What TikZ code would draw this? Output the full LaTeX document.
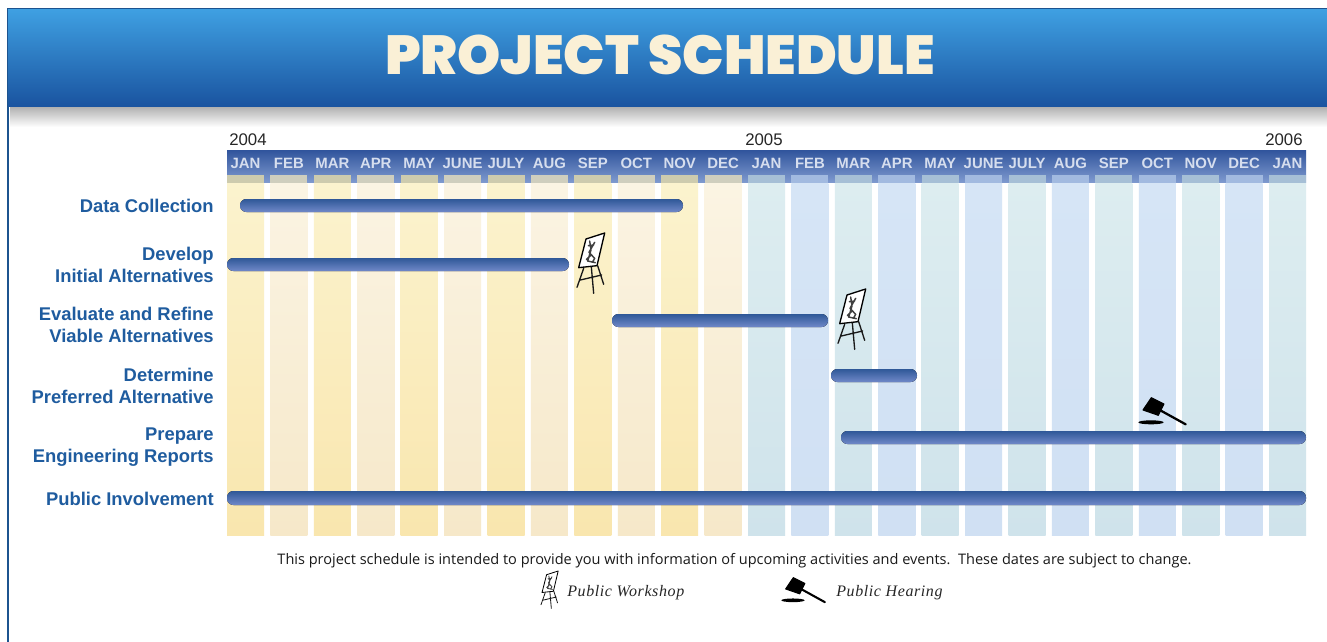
\documentclass[tikz,border=0pt]{standalone}
\usepackage{fontspec}
\setmainfont{Liberation Sans}
\newfontfamily\titlef{Poppins Black}
\newfontfamily\notef{Open Sans}
\newfontfamily\legf[LetterSpace=3.75]{Liberation Serif}
\usetikzlibrary{calc}
\definecolor{yelA}{HTML}{FBF3CE}
\definecolor{yelAb}{HTML}{F9E6AE}
\definecolor{yelB}{HTML}{FBF4E3}
\definecolor{yelBb}{HTML}{F6E8C9}
\definecolor{bluA}{HTML}{DDEDF0}
\definecolor{bluAb}{HTML}{CFE3EB}
\definecolor{bluB}{HTML}{D6E5F6}
\definecolor{bluBb}{HTML}{D0E0F3}
\definecolor{capA}{HTML}{CDCBAE}
\definecolor{capB}{HTML}{CFCEBE}
\definecolor{capC}{HTML}{A6BFD6}
\definecolor{capD}{HTML}{A2BAE0}
\definecolor{labelblue}{HTML}{1F5C9F}
\definecolor{barT}{HTML}{2F5898}
\definecolor{barM}{HTML}{3F5FA3}
\definecolor{barB}{HTML}{7088C8}
\definecolor{monthc}{HTML}{D6DEEE}
\tikzset{
  barbox/.style={rounded corners=4.8pt,shading=axis,top color=barT,middle color=barM,bottom color=barB,draw=none},
  rowlabel/.style={font=\fontsize{13.8}{16.5}\selectfont\bfseries,text=labelblue,anchor=east,align=right,inner sep=0pt},
  monthlabel/.style={font=\fontsize{11.2}{12}\selectfont\bfseries,text=monthc,inner sep=0pt},
  yearlabel/.style={font=\fontsize{12.6}{14}\selectfont,text=black!85,inner sep=0pt,anchor=base west},
  legendlabel/.style={font=\legf\itshape\fontsize{12}{13}\selectfont,text=black!85,anchor=base west,inner sep=0pt},
}
\newcommand{\easelicon}[3]{%
  \begin{scope}[shift={(#1,#2)},scale=#3/3,shift={(-50,-24)},line cap=round,line join=round]
    \draw[black,fill=white,line width=#3*1pt] (77,42)--(133,24)--(110,122)--(55,128)--cycle;
    \draw[black!90,line width=#3*1pt] (70,130)--(50,187) (112,122)--(130,178) (93,126)--(100,205) (60,165)--(124,150);
    \draw[black!75,line width=#3*1.1pt] (88,48)--(92,75)--(82,108)--(105,113) (103,52)--(86,82)--(103,100)--(96,112) (84,62)--(100,60) (90,92)--(78,104);
  \end{scope}}
\newcommand{\gavelicon}[3]{%
  \begin{scope}[shift={(#1,#2)},scale=#3/3,shift={(-113,-52)},line cap=round,line join=round]
    \filldraw[black,line width=#3*.8pt] (153,54)--(191,73)--(174,107)--(128,91)--cycle;
    \draw[black,line width=#3*1.7pt] (180,92)--(256,134);
    \fill[black] (152,128) ellipse [x radius=38,y radius=6];
  \end{scope}}
\begin{document}
\begin{tikzpicture}[x=0.75pt,y=-0.75pt]
\useasboundingbox (0,0) rectangle (1327,642);
\fill[white] (0,0) rectangle (1327,642);
% shadow
\shade[top color=black!32,bottom color=white] (10,106) rectangle (1327,127);
% frame
\draw[color=labelblue!90!black,line width=1.4pt] (8,642)--(8,8);
% header
\shade[top color={rgb,255:red,63;green,160;blue,226},bottom color={rgb,255:red,26;green,84;blue,160}] (8,9) rectangle (1327,106);
\draw[color=labelblue!90!black,line width=1pt] (8,8.5)--(1327,8.5);
\node[font=\titlef\fontsize{41.2}{46}\selectfont,text={rgb,255:red,250;green,240;blue,214},inner sep=0pt] (title) at (660,55) {PROJECT SCHEDULE};
% month band
\shade[top color={rgb,255:red,48;green,84;blue,156},bottom color={rgb,255:red,128;green,155;blue,208}] (227,150) rectangle (1306,183);
% columns
\foreach \i in {0,...,24}{
  \pgfmathsetmacro\xa{227+43.42*\i}
  \pgfmathsetmacro\xb{\xa+37}
  \pgfmathtruncatemacro\odd{mod(\i,2)}
  \ifnum\i<12
    \ifnum\odd=0 \def\cc{yelA}\def\cd{yelAb}\def\cp{capA}\else \def\cc{yelB}\def\cd{yelBb}\def\cp{capB}\fi
  \else
    \ifnum\odd=0 \def\cc{bluA}\def\cd{bluAb}\def\cp{capC}\else \def\cc{bluB}\def\cd{bluBb}\def\cp{capD}\fi
  \fi
  \fill[white] (\xa-4,183) rectangle (\xb+3,535);
  \shade[top color=\cc,bottom color=\cd] (\xa,183) rectangle (\xb,535);
  \fill[\cp] (\xa,175) rectangle (\xb,183);
}
% months
\foreach \m [count=\n from 0] in {JAN,FEB,MAR,APR,MAY,JUNE,JULY,AUG,SEP,OCT,NOV,DEC,JAN,FEB,MAR,APR,MAY,JUNE,JULY,AUG,SEP,OCT,NOV,DEC,JAN}{
  \pgfmathsetmacro\xc{245.5+43.42*\n}
  \node[monthlabel] (m\n) at (\xc,163) {\m};
}
% years
\node[yearlabel] (y04) at (229,145) {2004};
\node[yearlabel] (y05) at (745,145) {2005};
\node[yearlabel] (y06) at (1265,145) {2006};
% bars
\fill[barbox] (240,199) rectangle (683,212);
\fill[barbox] (227,258) rectangle (569,271);
\fill[barbox] (612,314) rectangle (828,327);
\fill[barbox] (831,369) rectangle (917,382);
\fill[barbox] (841,431) rectangle (1306,444);
\fill[barbox] (227,491) rectangle (1306,505);
% labels
\node[rowlabel] (r1) at (214,206) {Data Collection};
\node[rowlabel] (r2) at (214,265) {Develop\\Initial Alternatives};
\node[rowlabel] (r3) at (214,325) {Evaluate and Refine\\Viable Alternatives};
\node[rowlabel] (r4) at (214,386) {Determine\\Preferred Alternative};
\node[rowlabel] (r5) at (214,447) {Prepare\\Engineering Reports};
\node[rowlabel] (r6) at (214,499) {Public Involvement};
% icons
\easelicon{577}{233}{1}
\easelicon{838}{289}{1}
\gavelicon{1138}{397}{1}
\easelicon{541}{571}{.62}
\gavelicon{781}{577}{.92}
% notes
\node[font=\notef\fontsize{10.9}{12}\selectfont,text=black!90,inner sep=0pt] (note) at (734.5,561) {This project schedule is intended to provide you with information of upcoming activities and events.\ \ These dates are subject to change.};
\node[legendlabel] (l1) at (567,596) {Public Workshop};
\node[legendlabel] (l2) at (836,596) {Public Hearing};
\end{tikzpicture}
\end{document}
